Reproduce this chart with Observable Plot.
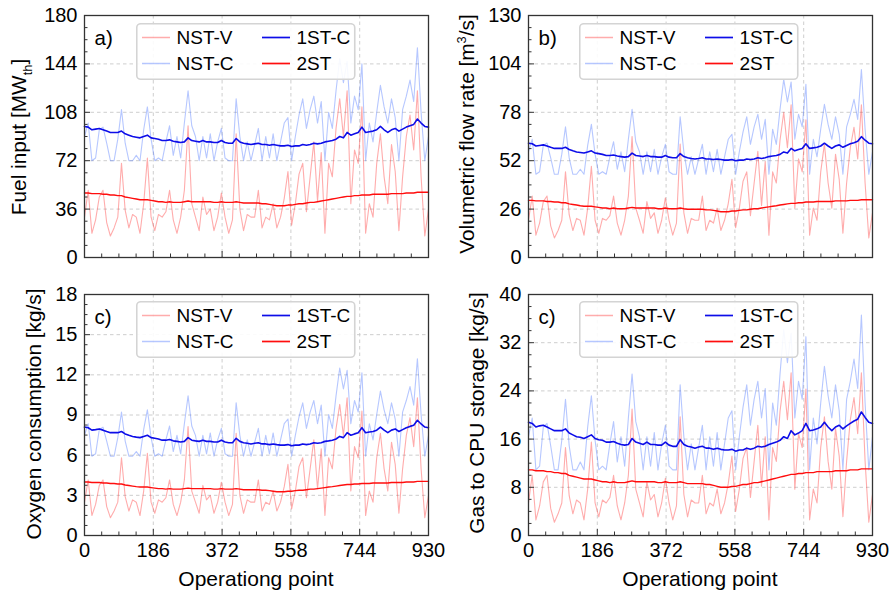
<!DOCTYPE html>
<html><head><meta charset="utf-8">
<script src="https://cdn.jsdelivr.net/npm/d3@7"></script>
<script src="https://cdn.jsdelivr.net/npm/@observablehq/plot@0.6"></script>
<style>
html,body{margin:0;padding:0;background:#fff;}
#root{position:relative;width:890px;height:591px;overflow:hidden;font-family:"Liberation Sans",Arial,sans-serif;color:#000;}
.pan{position:absolute;}
.ytitle{position:absolute;transform:translate(-50%,-50%) rotate(-90deg);white-space:nowrap;font-size:20.8px;line-height:1;}
.ytitle sub,.ytitle sup{font-size:0.62em;}
.xtitle{position:absolute;transform:translate(-50%,-50%);white-space:nowrap;font-size:21px;line-height:1;}
</style></head><body><div id="root"></div>
<script>
// operating points (x)
const opPoint = [0,10,20,30,40,50,60,70,80,90,100,110,120,130,140,150,160,170,180,190,200,210,220,230,240,250,260,270,280,290,300,310,320,330,340,350,360,370,380,390,400,410,420,430,440,450,460,470,480,490,500,510,520,530,540,550,560,570,580,590,600,610,620,630,640,650,660,670,680,690,700,710,720,730,740,750,760,770,780,790,800,810,820,830,840,850,860,870,880,890,900,910,920,930];
const seriesNames = ["NST-V","NST-C","1ST-C","2ST"];
const xTicks = [0,186,372,558,744,930];

// a) Fuel input [MWth]
const fuelNSTV = [30,50,18,28,45,50,26,16,22,30,70,35,22,32,30,18,40,74,30,20,32,30,34,50,28,18,30,50,98,40,30,20,45,32,36,20,30,48,30,18,28,92,36,20,32,30,30,50,22,30,28,40,22,30,44,64,24,40,62,70,34,60,86,42,78,18,70,60,96,118,90,124,40,80,70,112,18,40,30,70,92,60,40,84,64,20,60,90,106,80,124,60,16,36];
const fuelNSTC = [90,100,72,74,95,97,85,72,72,88,110,85,72,72,76,72,95,112,88,72,74,72,86,98,76,90,74,100,124,98,90,72,90,74,92,72,86,96,74,72,72,118,90,72,86,72,84,96,72,90,74,92,72,86,100,104,72,90,106,118,96,110,120,100,116,72,108,96,124,148,130,146,100,120,110,144,72,100,86,108,128,112,100,118,104,72,110,120,132,116,156,108,72,90];
const fuel1STC = [97.5,97,95,95.5,96,95,94,93,93,93,94,92,91,90,89.5,89,90,91,89,88.5,88,87,87,87.5,86.5,86,85.5,86,89,87,86.5,86,87,86,86,85.5,85.5,87,85.5,85,85,88.5,86,85,84.5,84,84.5,85,84,84,83.5,84,83.5,83,83,83.5,82.5,83,83,84,83.5,84,85,84.5,85,86,86.5,87,88,90,89,93,91,92,93,97,93,93.5,94,95,97.5,95,93,95,96,94,95.5,97,98,99,103,100,97.5,97];
const fuel2ST = [48,48,47.5,47.5,47.5,47,47,46.5,46.5,46,46,45,44.5,44,43.5,43,43,43,42.5,42,41.5,41.5,41,41.5,41,41,41,41.5,42,41.5,41.5,41.5,41.5,41.5,41.5,41,41,41.5,41,41,41,41.5,41,40.5,40.5,40.5,40.5,40.5,40,40,39.5,39,38.5,38.5,38.5,39,39,39.5,40,40,40.5,41,41,41.5,42,42.5,43,43.5,44,44.5,45,45.5,45.5,46,46,46.5,46.5,46.5,47,47,47,47,47,47.5,47.5,47.5,47.5,48,48,48,48.5,48.5,48.5,48.5];
const fuelTicks = [0,36,72,108,144,180];

// b) Volumetric flow rate [m3/s]
const flowNSTV = [20,33,12,18.5,30,33,17,10.5,14.5,20,46,23,14.5,21,20,12,26.5,49,20,13,21,20,22.5,33,18.5,12,20,33,65,26.5,20,13,30,21,24,13,20,32,20,12,18.5,61,24,13,21,20,20,33,14.5,20,18.5,26.5,14.5,20,29,42,16,26.5,41,46,22.5,40,57,28,51.5,12,46,40,63,78,59,82,26.5,53,46,74,12,26.5,20,46,61,40,26.5,55.5,42,13,40,59,70,53,82,40,10.5,24];
const flowNSTC = [56.8,63.5,44.7,46.1,60.2,61.5,53.5,44.7,44.7,55.5,70.2,53.5,44.7,44.7,47.4,44.7,60.2,71.5,55.5,44.7,46.1,44.7,54.1,62.2,47.4,56.8,46.1,63.5,79.6,62.2,56.8,44.7,56.8,46.1,58.1,44.7,54.1,60.8,46.1,44.7,44.7,75.6,56.8,44.7,54.1,44.7,52.8,60.8,44.7,56.8,46.1,58.1,44.7,54.1,63.5,66.2,44.7,56.8,67.5,75.6,60.8,70.2,76.9,63.5,74.2,44.7,68.9,60.8,79.6,95.7,83.6,94.3,63.5,76.9,70.2,93,44.7,63.5,54.1,68.9,82.3,71.5,63.5,75.6,66.2,44.7,70.2,76.9,85,74.2,101,68.9,44.7,56.8];
const flow1STC = [61.4,61.1,59.9,60.2,60.5,59.9,59.2,58.6,58.6,58.6,59.2,58,57.3,56.7,56.4,56.1,56.7,57.3,56.1,55.8,55.4,54.8,54.8,55.1,54.5,54.2,53.9,54.2,56.1,54.8,54.5,54.2,54.8,54.2,54.2,53.9,53.9,54.8,53.9,53.6,53.6,55.8,54.2,53.6,53.2,52.9,53.2,53.6,52.9,52.9,52.6,52.9,52.6,52.3,52.3,52.6,52,52.3,52.3,52.9,52.6,52.9,53.6,53.2,53.6,54.2,54.5,54.8,55.4,56.7,56.1,58.6,57.3,58,58.6,61.1,58.6,58.9,59.2,59.9,61.4,59.9,58.6,59.9,60.5,59.2,60.2,61.1,61.7,62.4,64.9,63,61.4,61.1];
const flow2ST = [30.7,30.7,30.4,30.4,30.4,30.1,30.1,29.8,29.8,29.4,29.4,28.8,28.5,28.2,27.8,27.5,27.5,27.5,27.2,26.9,26.6,26.6,26.2,26.6,26.2,26.2,26.2,26.6,26.9,26.6,26.6,26.6,26.6,26.6,26.6,26.2,26.2,26.6,26.2,26.2,26.2,26.6,26.2,25.9,25.9,25.9,25.9,25.9,25.6,25.6,25.3,25,24.6,24.6,24.6,25,25,25.3,25.6,25.6,25.9,26.2,26.2,26.6,26.9,27.2,27.5,27.8,28.2,28.5,28.8,29.1,29.1,29.4,29.4,29.8,29.8,29.8,30.1,30.1,30.1,30.1,30.1,30.4,30.4,30.4,30.4,30.7,30.7,30.7,31,31,31,31];
const flowTicks = [0,26,52,78,104,130];

// c) Oxygen consumption [kg/s]
const oxyNSTV = [2.49,4.15,1.49,2.32,3.74,4.15,2.16,1.33,1.83,2.49,5.81,2.9,1.83,2.66,2.49,1.49,3.32,6.14,2.49,1.66,2.66,2.49,2.82,4.15,2.32,1.49,2.49,4.15,8.13,3.32,2.49,1.66,3.74,2.66,2.99,1.66,2.49,3.98,2.49,1.49,2.32,7.64,2.99,1.66,2.66,2.49,2.49,4.15,1.83,2.49,2.32,3.32,1.83,2.49,3.65,5.31,1.99,3.32,5.15,5.81,2.82,4.98,7.14,3.49,6.47,1.49,5.81,4.98,7.97,9.79,7.47,10.29,3.32,6.64,5.81,9.3,1.49,3.32,2.49,5.81,7.64,4.98,3.32,6.97,5.31,1.66,4.98,7.47,8.8,6.64,10.29,4.98,1.33,2.99];
const oxyNSTC = [7.48,8.35,5.92,6.1,7.92,8.09,7.05,5.92,5.92,7.31,9.22,7.05,5.92,5.92,6.27,5.92,7.92,9.39,7.31,5.92,6.1,5.92,7.14,8.18,6.27,7.48,6.1,8.35,10.43,8.18,7.48,5.92,7.48,6.1,7.66,5.92,7.14,8,6.1,5.92,5.92,9.91,7.48,5.92,7.14,5.92,6.96,8,5.92,7.48,6.1,7.66,5.92,7.14,8.35,8.7,5.92,7.48,8.87,9.91,8,9.22,10.08,8.35,9.74,5.92,9.04,8,10.43,12.51,10.95,12.34,8.35,10.08,9.22,12.16,5.92,8.35,7.14,9.04,10.78,9.39,8.35,9.91,8.7,5.92,9.22,10.08,11.12,9.74,13.2,9.04,5.92,7.48];
const oxy1STC = [8.1,8.05,7.87,7.91,7.96,7.87,7.77,7.68,7.68,7.68,7.77,7.59,7.49,7.4,7.35,7.31,7.4,7.49,7.31,7.26,7.21,7.12,7.12,7.17,7.07,7.03,6.98,7.03,7.31,7.12,7.07,7.03,7.12,7.03,7.03,6.98,6.98,7.12,6.98,6.93,6.93,7.26,7.03,6.93,6.89,6.84,6.89,6.93,6.84,6.84,6.79,6.84,6.79,6.75,6.75,6.79,6.7,6.75,6.75,6.84,6.79,6.84,6.93,6.89,6.93,7.03,7.07,7.12,7.21,7.4,7.31,7.68,7.49,7.59,7.68,8.05,7.68,7.73,7.77,7.87,8.1,7.87,7.68,7.87,7.96,7.77,7.91,8.05,8.15,8.24,8.61,8.33,8.1,8.05];
const oxy2ST = [4,4,3.96,3.96,3.96,3.92,3.92,3.88,3.88,3.85,3.85,3.77,3.73,3.69,3.65,3.62,3.62,3.62,3.58,3.54,3.5,3.5,3.46,3.5,3.46,3.46,3.46,3.5,3.54,3.5,3.5,3.5,3.5,3.5,3.5,3.46,3.46,3.5,3.46,3.46,3.46,3.5,3.46,3.42,3.42,3.42,3.42,3.42,3.38,3.38,3.35,3.31,3.27,3.27,3.27,3.31,3.31,3.35,3.38,3.38,3.42,3.46,3.46,3.5,3.54,3.58,3.62,3.65,3.69,3.73,3.77,3.81,3.81,3.85,3.85,3.88,3.88,3.88,3.92,3.92,3.92,3.92,3.92,3.96,3.96,3.96,3.96,4,4,4,4.04,4.04,4.04,4.04];
const oxyTicks = [0,3,6,9,12,15,18];

// d) Gas to CPU storage [kg/s]
const gasNSTV = [5.4,10,2.6,4.9,8.9,10,4.5,2.2,3.6,5.4,14.6,6.6,3.6,5.9,5.4,2.6,7.7,15.5,5.4,3.1,5.9,5.4,6.3,10,4.9,2.6,5.4,10,21,7.7,5.4,3.1,8.9,5.9,6.8,3.1,5.4,9.5,5.4,2.6,4.9,19.7,6.8,3.1,5.9,5.4,5.4,10,3.6,5.4,4.9,7.7,3.6,5.4,8.6,13.2,4,7.7,12.8,14.6,6.3,12.3,18.3,8.2,16.4,2.6,14.6,12.3,20.6,25.6,19.2,27,7.7,16.9,14.6,24.3,2.6,7.7,5.4,14.6,19.7,12.3,7.7,17.8,13.2,3.1,12.3,19.2,22.9,16.9,27,12.3,2.2,6.8];
const gasNSTC = [16.4,19.5,10.9,11.5,18,18.6,14.9,10.9,10.9,15.8,22.6,14.9,10.9,10.9,12.2,10.9,18,23.2,15.8,10.9,11.5,10.9,15.2,18.9,12.2,16.4,11.5,19.5,26.8,18.9,16.4,10.9,16.4,11.5,17.1,10.9,15.2,18.3,11.5,10.9,10.9,25,16.4,10.9,15.2,10.9,14.6,18.3,10.9,16.4,11.5,17.1,10.9,15.2,19.5,20.7,10.9,16.4,21.3,25,18.3,22.6,25.6,19.5,24.4,10.9,22,18.3,26.8,34.2,28.7,33.6,19.5,25.6,22.6,33,10.9,19.5,15.2,22,28.1,23.2,19.5,25,20.7,10.9,22.6,25.6,29.3,24.4,36.6,22,10.9,16.4];
const gas1STC = [18.8,18.6,18,18.2,18.3,18,17.7,17.4,17.4,17.4,17.7,17,16.7,16.4,16.3,16.1,16.4,16.7,16.1,15.9,15.8,15.5,15.5,15.6,15.3,15.1,15,15.1,16.1,15.5,15.3,15.1,15.5,15.1,15.1,15,15,15.5,15,14.8,14.8,15.9,15.1,14.8,14.7,14.5,14.7,14.8,14.5,14.5,14.3,14.5,14.3,14.2,14.2,14.3,14,14.2,14.2,14.5,14.3,14.5,14.8,14.7,14.8,15.1,15.3,15.5,15.8,16.4,16.1,17.4,16.7,17,17.4,18.6,17.4,17.5,17.7,18,18.8,18,17.4,18,18.3,17.7,18.2,18.6,19,19.3,20.5,19.6,18.8,18.6];
const gas2ST = [10.9,10.9,10.75,10.75,10.75,10.6,10.6,10.44,10.44,10.29,10.29,9.99,9.83,9.68,9.53,9.38,9.38,9.38,9.22,9.07,8.92,8.92,8.77,8.92,8.77,8.77,8.77,8.92,9.07,8.92,8.92,8.92,8.92,8.92,8.92,8.77,8.77,8.92,8.77,8.77,8.77,8.92,8.77,8.61,8.61,8.61,8.61,8.61,8.46,8.46,8.31,8.16,8,8,8,8.16,8.16,8.31,8.46,8.46,8.61,8.77,8.77,8.92,9.07,9.22,9.38,9.53,9.68,9.83,9.99,10.14,10.14,10.29,10.29,10.44,10.44,10.44,10.6,10.6,10.6,10.6,10.6,10.75,10.75,10.75,10.75,10.9,10.9,10.9,11.05,11.05,11.05,11.05];
const gasTicks = [0,8,16,24,32,40];

const root = document.getElementById("root");
const COL = {
  "NST-V": {stroke: "#ff1a1a", opacity: 0.36, width: 1.1},
  "NST-C": {stroke: "#2a5cff", opacity: 0.34, width: 1.1},
  "1ST-C": {stroke: "#0d0de8", opacity: 1, width: 1.6},
  "2ST":   {stroke: "#ff0d0d", opacity: 1, width: 1.4}
};
const FONT = "Liberation Sans, Arial, sans-serif";

function minorOf(ticks) {
  const out = [];
  for (let i = 0; i < ticks.length - 1; i++) {
    const s = (ticks[i + 1] - ticks[i]) / 4;
    for (let k = 1; k < 4; k++) out.push(ticks[i] + k * s);
  }
  return out;
}

function panel(p) {
  const yTicks = p.yTicks;
  const yMax = yTicks[yTicks.length - 1];
  const series = [
    ["NST-C", p.nstC], ["NST-V", p.nstV], ["1ST-C", p.st1], ["2ST", p.st2]
  ];
  const chart = Plot.plot({
    width: p.w, height: p.h,
    marginLeft: p.ml, marginRight: p.mr, marginTop: p.mt, marginBottom: p.mb,
    style: {fontFamily: FONT, fontSize: "20px", color: "#000", background: "transparent", overflow: "visible"},
    x: {domain: [0, 930]},
    y: {domain: [0, yMax]},
    marks: [
      Plot.gridY(yTicks.slice(1, -1), {stroke: "#c8c8c8", strokeOpacity: 1, strokeDasharray: "3.5,3", strokeWidth: 0.9}),
      Plot.gridX(xTicks.slice(1, -1), {stroke: "#c8c8c8", strokeOpacity: 1, strokeDasharray: "3.5,3", strokeWidth: 0.9}),
      ...series.map(([name, vals]) => Plot.line(vals, {
        x: opPoint, y: vals, stroke: COL[name].stroke, strokeOpacity: COL[name].opacity,
        strokeWidth: COL[name].width, strokeLinejoin: "round"
      })),
      Plot.frame({stroke: "#333", strokeWidth: 1.3}),
      Plot.axisY(yTicks, {anchor: "left", tickSize: -6, tickPadding: 13, fontSize: 20, stroke: "#333", tickFormat: d => String(d)}),
      Plot.axisY(minorOf(yTicks), {anchor: "left", tickSize: -3.5, tickPadding: 0, stroke: "#333", tickFormat: () => ""}),
      Plot.axisX(xTicks, {anchor: "bottom", tickSize: -6, tickPadding: 13, fontSize: 20, stroke: "#333", tickFormat: p.showX ? (d => String(d)) : (() => "")}),
      Plot.axisX(minorOf(xTicks), {anchor: "bottom", tickSize: -3.5, tickPadding: 0, stroke: "#333", tickFormat: () => ""}),
      Plot.text([p.label], {frameAnchor: "top-left", textAnchor: "start", lineAnchor: "middle", dx: 10, dy: 22.5, fontSize: 20.5, fill: "#000"})
    ]
  });
  const div = document.createElement("div");
  div.className = "pan";
  div.style.left = p.left + "px";
  div.style.top = p.top + "px";
  div.appendChild(chart);
  root.appendChild(div);

  // legend box inside the plot
  const lg = d3.select(root).append("svg")
    .style("position", "absolute").style("left", p.lx + "px").style("top", p.ly + "px")
    .attr("width", 221).attr("height", 58);
  lg.append("rect").attr("x", 0.75).attr("y", 0.75).attr("width", 218).attr("height", 55.5)
    .attr("rx", 4).attr("fill", "#fff").attr("fill-opacity", 0.9).attr("stroke", "#d4d4d4").attr("stroke-width", 1.6);
  const items = [["NST-V", 0, 0], ["NST-C", 0, 1], ["1ST-C", 1, 0], ["2ST", 1, 1]];
  items.forEach(([name, c, r]) => {
    const x0 = c === 0 ? 6 : 126, y0 = r === 0 ? 14.5 : 40.5;
    lg.append("line").attr("x1", x0).attr("x2", x0 + 28).attr("y1", y0).attr("y2", y0)
      .attr("stroke", COL[name].stroke).attr("stroke-opacity", COL[name].opacity)
      .attr("stroke-width", COL[name].opacity < 1 ? 1.5 : 1.7);
    lg.append("text").attr("x", x0 + 34.5).attr("y", y0).attr("dy", "0.35em")
      .attr("font-family", FONT).attr("font-size", 19).attr("fill", "#000").text(name);
  });

  const yt = document.createElement("div");
  yt.className = "ytitle";
  yt.style.left = p.tx + "px";
  yt.style.top = p.ty + "px";
  yt.innerHTML = p.ytitle;
  root.appendChild(yt);

  if (p.showX) {
    const xt = document.createElement("div");
    xt.className = "xtitle";
    xt.style.left = (p.left + p.ml + (p.w - p.ml - p.mr) / 2) + "px";
    xt.style.top = "578px";
    xt.textContent = "Operationg point";
    root.appendChild(xt);
  }
}

panel({left: 0, top: 0, w: 445, h: 280, ml: 84, mr: 17, mt: 15, mb: 23, yTicks: fuelTicks, showX: false, label: "a)",
  nstV: fuelNSTV, nstC: fuelNSTC, st1: fuel1STC, st2: fuel2ST, lx: 136, ly: 23, tx: 22, ty: 137,
  ytitle: "Fuel input [MW<sub>th</sub>]"});
panel({left: 445, top: 0, w: 445, h: 280, ml: 83, mr: 18, mt: 15, mb: 23, yTicks: flowTicks, showX: false, label: "b)",
  nstV: flowNSTV, nstC: flowNSTC, st1: flow1STC, st2: flow2ST, lx: 579, ly: 23, tx: 467, ty: 134,
  ytitle: "Volumetric flow rate [m<sup>3</sup>/s]"});
panel({left: 0, top: 280, w: 445, h: 311, ml: 84, mr: 17, mt: 14, mb: 56, yTicks: oxyTicks, showX: true, label: "c)",
  nstV: oxyNSTV, nstC: oxyNSTC, st1: oxy1STC, st2: oxy2ST, lx: 136, ly: 300.5, tx: 34, ty: 414,
  ytitle: "Oxygen consumption [kg/s]"});
panel({left: 445, top: 280, w: 445, h: 311, ml: 83, mr: 18, mt: 14, mb: 56, yTicks: gasTicks, showX: true, label: "c)",
  nstV: gasNSTV, nstC: gasNSTC, st1: gas1STC, st2: gas2ST, lx: 579, ly: 300.5, tx: 477, ty: 413,
  ytitle: "Gas to CPU storage [kg/s]"});
</script></body></html>
